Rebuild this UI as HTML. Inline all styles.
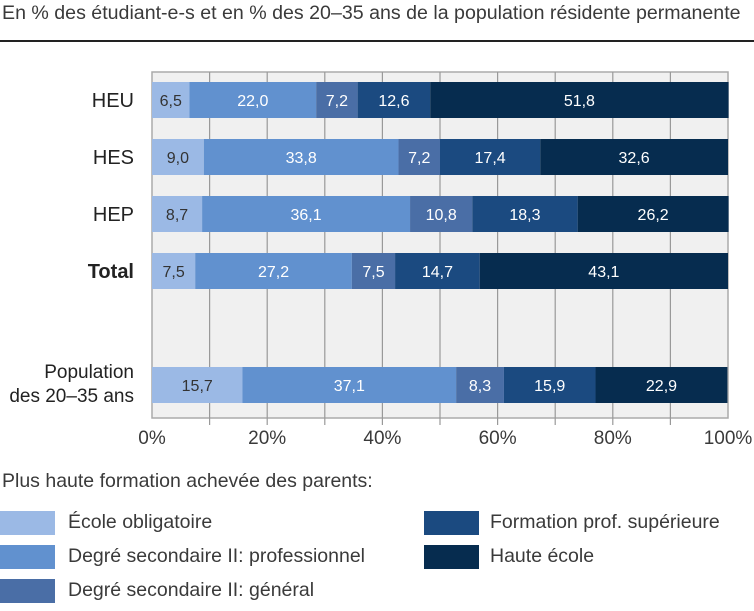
<!DOCTYPE html>
<html><head><meta charset="utf-8"><style>
body{margin:0;background:#fff;font-family:"Liberation Sans",sans-serif;color:#3a3a3a}
#wrap{position:relative;width:754px;height:611px;overflow:hidden}
.t{position:absolute;font-size:19.5px;white-space:nowrap}
.sw{position:absolute;width:55px;height:24px}
</style></head><body>
<div id="wrap">
<div class="t" style="left:2px;top:2px;font-size:19.6px">En % des étudiant-e-s et en % des 20–35 ans de la population résidente permanente</div>
<div style="position:absolute;left:0;top:40px;width:754px;height:2px;background:#222"></div>
<svg id="svg" width="754" height="611" style="position:absolute;left:0;top:0"></svg>
<div class="t" style="left:2px;top:470px">Plus haute formation achevée des parents:</div>
<div><div class="sw" style="left:0;top:511px;background:#9bb9e5"></div><div class="t" style="left:68px;top:511px">École obligatoire</div></div>
<div><div class="sw" style="left:0;top:545px;background:#6191cf"></div><div class="t" style="left:68px;top:545px">Degré secondaire II: professionnel</div></div>
<div><div class="sw" style="left:0;top:579px;background:#4a6ea6"></div><div class="t" style="left:68px;top:579px">Degré secondaire II: général</div></div>
<div><div class="sw" style="left:424px;top:511px;background:#1b4a80"></div><div class="t" style="left:490px;top:511px">Formation prof. supérieure</div></div>
<div><div class="sw" style="left:424px;top:545px;background:#062c4f"></div><div class="t" style="left:490px;top:545px">Haute école</div></div>
</div>
<script>
const categories=["HEU","HES","HEP","Total","Population des 20–35 ans"];
const ecoleOblig=[6.5,9.0,8.7,7.5,15.7];
const secPro=[22.0,33.8,36.1,27.2,37.1];
const secGen=[7.2,7.2,10.8,7.5,8.3];
const profSup=[12.6,17.4,18.3,14.7,15.9];
const hauteEcole=[51.8,32.6,26.2,43.1,22.9];
const tickLabels=["0%","20%","40%","60%","80%","100%"];
const series=[ecoleOblig,secPro,secGen,profSup,hauteEcole];
const colors=["#9bb9e5","#6191cf","#4a6ea6","#1b4a80","#062c4f"];
const txtCol=["#333","#fff","#fff","#fff","#fff"];
const rowTop=[82,139,196,253,367];
const X0=152,X1=728,PT=72,PB=418;
const x=v=>X0+(X1-X0)*v/100;
const svg=document.getElementById('svg');const NS="http://www.w3.org/2000/svg";
function mk(t,a,p){const e=document.createElementNS(NS,t);for(const k in a)e.setAttribute(k,a[k]);(p||svg).appendChild(e);return e;}
const bg=mk('rect',{x:X0,y:PT,width:X1-X0,height:PB-PT,fill:'#f0f0f0',stroke:'#aaa','stroke-width':1.5});


for(let i=1;i<10;i++){const g=mk('line',{x1:x(i*10),x2:x(i*10),y1:PT,y2:PB+7,stroke:'#999','stroke-width':1.2});

}
tickLabels.forEach((t,i)=>{const e=mk('text',{x:x(i*20),y:444,'text-anchor':'middle','font-size':19,fill:'#3a3a3a','font-family':'Liberation Sans'});e.textContent=t;

});
categories.forEach((c,r)=>{
  const y=rowTop[r],h=36;
  if(r<4){const e=mk('text',{x:134,y:y+25,'text-anchor':'end','font-size':20,fill:'#222','font-family':'Liberation Sans','font-weight':c==="Total"?'bold':'normal'});e.textContent=c;
  
  }
  else{const e=mk('text',{x:134,y:y+11,'text-anchor':'end','font-size':19,fill:'#222','font-family':'Liberation Sans'});
  const a=mk('tspan',{x:134},e);a.textContent="Population";const b=mk('tspan',{x:134,dy:24},e);b.textContent="des 20–35 ans";
  
  }
  let acc=0;
  series.forEach((s,k)=>{const v=s[r];
    const rc=mk('rect',{x:x(acc),y:y,width:x(acc+v)-x(acc),height:h,fill:colors[k]});
    
    
    const t=mk('text',{x:(x(acc)+x(acc+v))/2,y:y+24,'text-anchor':'middle','font-size':16,fill:txtCol[k],'font-family':'Liberation Sans'});
    t.textContent=v.toFixed(1).replace('.',',');
    
    
    acc+=v;});
});
</script>
</body></html>
